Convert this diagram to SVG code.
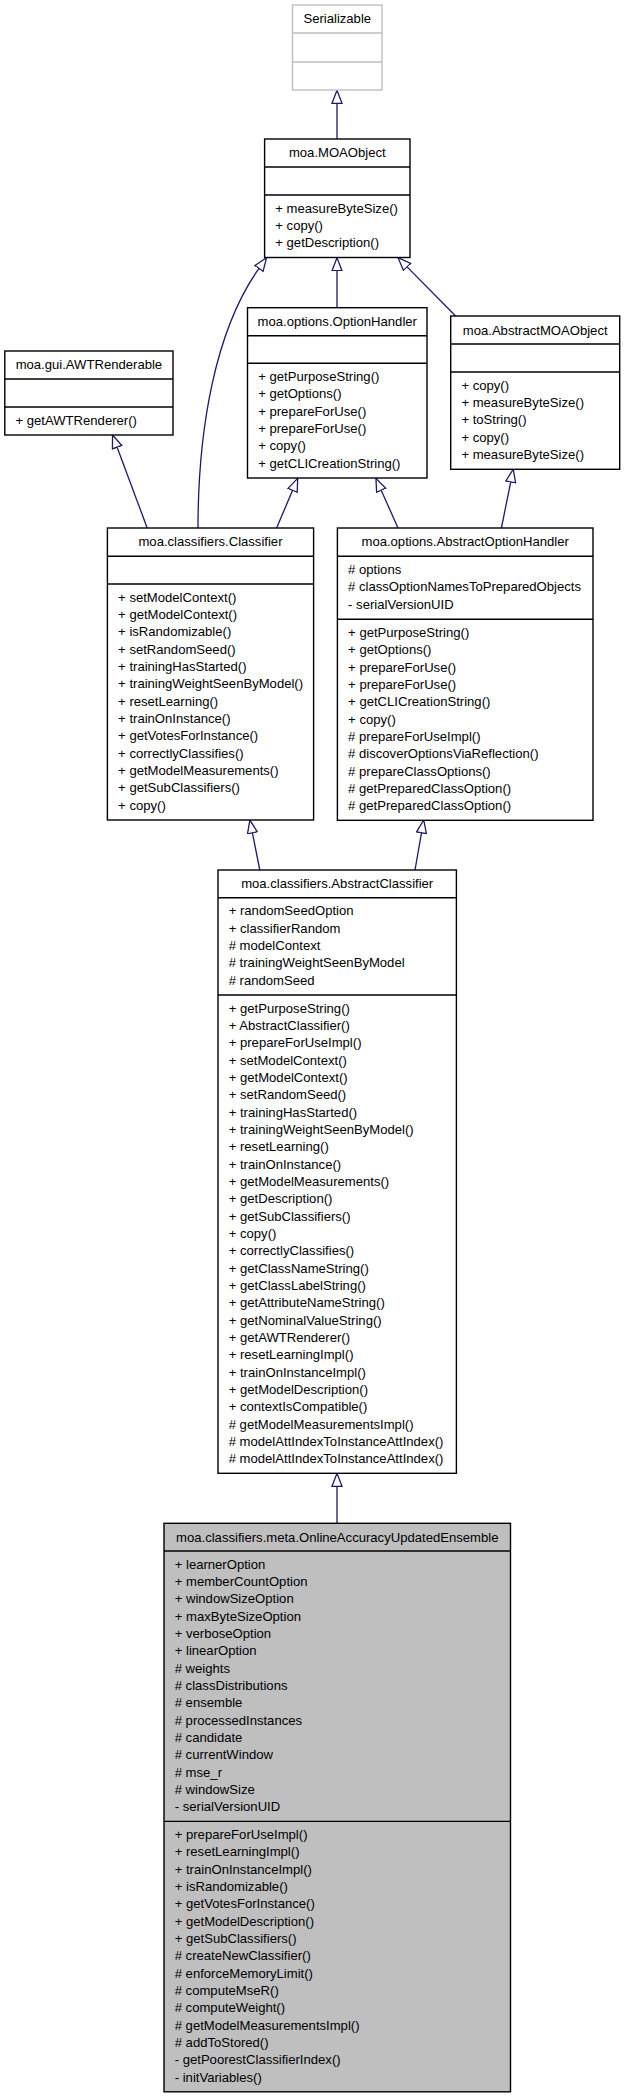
<svg xmlns="http://www.w3.org/2000/svg" width="624" height="2099" viewBox="0 0 624 2099">
<style>
text{font-family:"Liberation Sans",Arial,Helvetica,sans-serif;font-size:13.1px;fill:#000}
.t{text-anchor:middle}
.box{fill:#fff;stroke:#000;stroke-width:1.4}
.ext{fill:#fff;stroke:#bfbfbf;stroke-width:1.4}
.main{fill:#bfbfbf;stroke:#000;stroke-width:1.4}
.sep{stroke:#000;stroke-width:1.4}
.sepx{stroke:#bfbfbf;stroke-width:1.4}
.edge{fill:none;stroke:#191970;stroke-width:1.3}
</style>
<defs>
<marker id="inh" markerUnits="userSpaceOnUse" viewBox="0 0 16 12" markerWidth="16" markerHeight="12" refX="0.7" refY="6" orient="auto">
<polygon points="0.7,1 13.7,6 0.7,11" fill="#fff" stroke="#191970" stroke-width="1.3"/>
</marker>
</defs>

<g id="edges">
<path class="edge" marker-end="url(#inh)" d="M337,139 L337,103.3"/>
<path class="edge" marker-end="url(#inh)" d="M198,528 C198,430 215,330 259,268.4"/>
<path class="edge" marker-end="url(#inh)" d="M337,307.7 L337,270.7"/>
<path class="edge" marker-end="url(#inh)" d="M455.6,316 L407.1,266.9"/>
<path class="edge" marker-end="url(#inh)" d="M147.2,528 L117.1,447.2"/>
<path class="edge" marker-end="url(#inh)" d="M276.6,528 L292.6,490.3"/>
<path class="edge" marker-end="url(#inh)" d="M398,528 L381.2,490.2"/>
<path class="edge" marker-end="url(#inh)" d="M501.4,528 L510.7,482"/>
<path class="edge" marker-end="url(#inh)" d="M259.8,870 L252.4,832.8"/>
<path class="edge" marker-end="url(#inh)" d="M415,870 L421.5,832.8"/>
<path class="edge" marker-end="url(#inh)" d="M337,1523.3 L337,1486.3"/>
</g>

<g id="Serializable">
<rect class="ext" x="292.5" y="5" width="89.5" height="85"/>
<line class="sepx" x1="292.5" y1="33" x2="382" y2="33"/>
<line class="sepx" x1="292.5" y1="62" x2="382" y2="62"/>
<text class="t" x="337.25" y="23.3">Serializable</text>
</g>

<g id="MOAObject">
<rect class="box" x="264.6" y="139" width="145.4" height="118.5"/>
<line class="sep" x1="264.6" y1="167" x2="410" y2="167"/>
<line class="sep" x1="264.6" y1="195" x2="410" y2="195"/>
<text class="t" x="337.3" y="157.3">moa.MOAObject</text>
<text x="275.3" y="212.6"><tspan x="275.3" dy="0">+ measureByteSize()</tspan><tspan x="275.3" dy="17.33">+ copy()</tspan><tspan x="275.3" dy="17.33">+ getDescription()</tspan></text>
</g>

<g id="AWTRenderable">
<rect class="box" x="4.8" y="351" width="168.2" height="84"/>
<line class="sep" x1="4.8" y1="379" x2="173" y2="379"/>
<line class="sep" x1="4.8" y1="407" x2="173" y2="407"/>
<text class="t" x="88.9" y="369.3">moa.gui.AWTRenderable</text>
<text x="15.5" y="424.6">+ getAWTRenderer()</text>
</g>

<g id="OptionHandler">
<rect class="box" x="247.5" y="307.7" width="179.5" height="170.3"/>
<line class="sep" x1="247.5" y1="335.7" x2="427" y2="335.7"/>
<line class="sep" x1="247.5" y1="363.3" x2="427" y2="363.3"/>
<text class="t" x="337.25" y="326">moa.options.OptionHandler</text>
<text x="258.2" y="380.9"><tspan x="258.2" dy="0">+ getPurposeString()</tspan><tspan x="258.2" dy="17.33">+ getOptions()</tspan><tspan x="258.2" dy="17.33">+ prepareForUse()</tspan><tspan x="258.2" dy="17.33">+ prepareForUse()</tspan><tspan x="258.2" dy="17.33">+ copy()</tspan><tspan x="258.2" dy="17.33">+ getCLICreationString()</tspan></text>
</g>

<g id="AbstractMOAObject">
<rect class="box" x="450.7" y="316" width="169" height="153.3"/>
<line class="sep" x1="450.7" y1="344" x2="619.7" y2="344"/>
<line class="sep" x1="450.7" y1="372" x2="619.7" y2="372"/>
<text class="t" x="535.2" y="334.5">moa.AbstractMOAObject</text>
<text x="461.4" y="389.6"><tspan x="461.4" dy="0">+ copy()</tspan><tspan x="461.4" dy="17.33">+ measureByteSize()</tspan><tspan x="461.4" dy="17.33">+ toString()</tspan><tspan x="461.4" dy="17.33">+ copy()</tspan><tspan x="461.4" dy="17.33">+ measureByteSize()</tspan></text>
</g>

<g id="Classifier">
<rect class="box" x="107.4" y="528" width="206.2" height="292"/>
<line class="sep" x1="107.4" y1="556.3" x2="313.6" y2="556.3"/>
<line class="sep" x1="107.4" y1="584" x2="313.6" y2="584"/>
<text class="t" x="210.5" y="546.3">moa.classifiers.Classifier</text>
<text x="118.1" y="601.6"><tspan x="118.1" dy="0">+ setModelContext()</tspan><tspan x="118.1" dy="17.33">+ getModelContext()</tspan><tspan x="118.1" dy="17.33">+ isRandomizable()</tspan><tspan x="118.1" dy="17.33">+ setRandomSeed()</tspan><tspan x="118.1" dy="17.33">+ trainingHasStarted()</tspan><tspan x="118.1" dy="17.33">+ trainingWeightSeenByModel()</tspan><tspan x="118.1" dy="17.33">+ resetLearning()</tspan><tspan x="118.1" dy="17.33">+ trainOnInstance()</tspan><tspan x="118.1" dy="17.33">+ getVotesForInstance()</tspan><tspan x="118.1" dy="17.33">+ correctlyClassifies()</tspan><tspan x="118.1" dy="17.33">+ getModelMeasurements()</tspan><tspan x="118.1" dy="17.33">+ getSubClassifiers()</tspan><tspan x="118.1" dy="17.33">+ copy()</tspan></text>
</g>

<g id="AbstractOptionHandler">
<rect class="box" x="337.4" y="528" width="255.6" height="292.3"/>
<line class="sep" x1="337.4" y1="556.3" x2="593" y2="556.3"/>
<line class="sep" x1="337.4" y1="619.3" x2="593" y2="619.3"/>
<text class="t" x="465.2" y="546.3">moa.options.AbstractOptionHandler</text>
<text x="348.1" y="573.9"><tspan x="348.1" dy="0"># options</tspan><tspan x="348.1" dy="17.33"># classOptionNamesToPreparedObjects</tspan><tspan x="348.1" dy="17.33">- serialVersionUID</tspan></text>
<text x="348.1" y="636.9"><tspan x="348.1" dy="0">+ getPurposeString()</tspan><tspan x="348.1" dy="17.33">+ getOptions()</tspan><tspan x="348.1" dy="17.33">+ prepareForUse()</tspan><tspan x="348.1" dy="17.33">+ prepareForUse()</tspan><tspan x="348.1" dy="17.33">+ getCLICreationString()</tspan><tspan x="348.1" dy="17.33">+ copy()</tspan><tspan x="348.1" dy="17.33"># prepareForUseImpl()</tspan><tspan x="348.1" dy="17.33"># discoverOptionsViaReflection()</tspan><tspan x="348.1" dy="17.33"># prepareClassOptions()</tspan><tspan x="348.1" dy="17.33"># getPreparedClassOption()</tspan><tspan x="348.1" dy="17.33"># getPreparedClassOption()</tspan></text>
</g>

<g id="AbstractClassifier">
<rect class="box" x="218" y="870" width="238.4" height="603.3"/>
<line class="sep" x1="218" y1="897.7" x2="456.4" y2="897.7"/>
<line class="sep" x1="218" y1="995" x2="456.4" y2="995"/>
<text class="t" x="337.2" y="888">moa.classifiers.AbstractClassifier</text>
<text x="228.7" y="915.3"><tspan x="228.7" dy="0">+ randomSeedOption</tspan><tspan x="228.7" dy="17.33">+ classifierRandom</tspan><tspan x="228.7" dy="17.33"># modelContext</tspan><tspan x="228.7" dy="17.33"># trainingWeightSeenByModel</tspan><tspan x="228.7" dy="17.33"># randomSeed</tspan></text>
<text x="228.7" y="1012.6"><tspan x="228.7" dy="0">+ getPurposeString()</tspan><tspan x="228.7" dy="17.33">+ AbstractClassifier()</tspan><tspan x="228.7" dy="17.33">+ prepareForUseImpl()</tspan><tspan x="228.7" dy="17.33">+ setModelContext()</tspan><tspan x="228.7" dy="17.33">+ getModelContext()</tspan><tspan x="228.7" dy="17.33">+ setRandomSeed()</tspan><tspan x="228.7" dy="17.33">+ trainingHasStarted()</tspan><tspan x="228.7" dy="17.33">+ trainingWeightSeenByModel()</tspan><tspan x="228.7" dy="17.33">+ resetLearning()</tspan><tspan x="228.7" dy="17.33">+ trainOnInstance()</tspan><tspan x="228.7" dy="17.33">+ getModelMeasurements()</tspan><tspan x="228.7" dy="17.33">+ getDescription()</tspan><tspan x="228.7" dy="17.33">+ getSubClassifiers()</tspan><tspan x="228.7" dy="17.33">+ copy()</tspan><tspan x="228.7" dy="17.33">+ correctlyClassifies()</tspan><tspan x="228.7" dy="17.33">+ getClassNameString()</tspan><tspan x="228.7" dy="17.33">+ getClassLabelString()</tspan><tspan x="228.7" dy="17.33">+ getAttributeNameString()</tspan><tspan x="228.7" dy="17.33">+ getNominalValueString()</tspan><tspan x="228.7" dy="17.33">+ getAWTRenderer()</tspan><tspan x="228.7" dy="17.33">+ resetLearningImpl()</tspan><tspan x="228.7" dy="17.33">+ trainOnInstanceImpl()</tspan><tspan x="228.7" dy="17.33">+ getModelDescription()</tspan><tspan x="228.7" dy="17.33">+ contextIsCompatible()</tspan><tspan x="228.7" dy="17.33"># getModelMeasurementsImpl()</tspan><tspan x="228.7" dy="17.33"># modelAttIndexToInstanceAttIndex()</tspan><tspan x="228.7" dy="17.33"># modelAttIndexToInstanceAttIndex()</tspan></text>
</g>

<g id="OnlineAccuracyUpdatedEnsemble">
<rect class="main" x="164" y="1523.3" width="346.5" height="568.5"/>
<line class="sep" x1="164" y1="1551" x2="510.5" y2="1551"/>
<line class="sep" x1="164" y1="1821.4" x2="510.5" y2="1821.4"/>
<text class="t" x="337.25" y="1541.6">moa.classifiers.meta.OnlineAccuracyUpdatedEnsemble</text>
<text x="174.7" y="1568.6"><tspan x="174.7" dy="0">+ learnerOption</tspan><tspan x="174.7" dy="17.33">+ memberCountOption</tspan><tspan x="174.7" dy="17.33">+ windowSizeOption</tspan><tspan x="174.7" dy="17.33">+ maxByteSizeOption</tspan><tspan x="174.7" dy="17.33">+ verboseOption</tspan><tspan x="174.7" dy="17.33">+ linearOption</tspan><tspan x="174.7" dy="17.33"># weights</tspan><tspan x="174.7" dy="17.33"># classDistributions</tspan><tspan x="174.7" dy="17.33"># ensemble</tspan><tspan x="174.7" dy="17.33"># processedInstances</tspan><tspan x="174.7" dy="17.33"># candidate</tspan><tspan x="174.7" dy="17.33"># currentWindow</tspan><tspan x="174.7" dy="17.33"># mse_r</tspan><tspan x="174.7" dy="17.33"># windowSize</tspan><tspan x="174.7" dy="17.33">- serialVersionUID</tspan></text>
<text x="174.7" y="1839"><tspan x="174.7" dy="0">+ prepareForUseImpl()</tspan><tspan x="174.7" dy="17.33">+ resetLearningImpl()</tspan><tspan x="174.7" dy="17.33">+ trainOnInstanceImpl()</tspan><tspan x="174.7" dy="17.33">+ isRandomizable()</tspan><tspan x="174.7" dy="17.33">+ getVotesForInstance()</tspan><tspan x="174.7" dy="17.33">+ getModelDescription()</tspan><tspan x="174.7" dy="17.33">+ getSubClassifiers()</tspan><tspan x="174.7" dy="17.33"># createNewClassifier()</tspan><tspan x="174.7" dy="17.33"># enforceMemoryLimit()</tspan><tspan x="174.7" dy="17.33"># computeMseR()</tspan><tspan x="174.7" dy="17.33"># computeWeight()</tspan><tspan x="174.7" dy="17.33"># getModelMeasurementsImpl()</tspan><tspan x="174.7" dy="17.33"># addToStored()</tspan><tspan x="174.7" dy="17.33">- getPoorestClassifierIndex()</tspan><tspan x="174.7" dy="17.33">- initVariables()</tspan></text>
</g>
</svg>
